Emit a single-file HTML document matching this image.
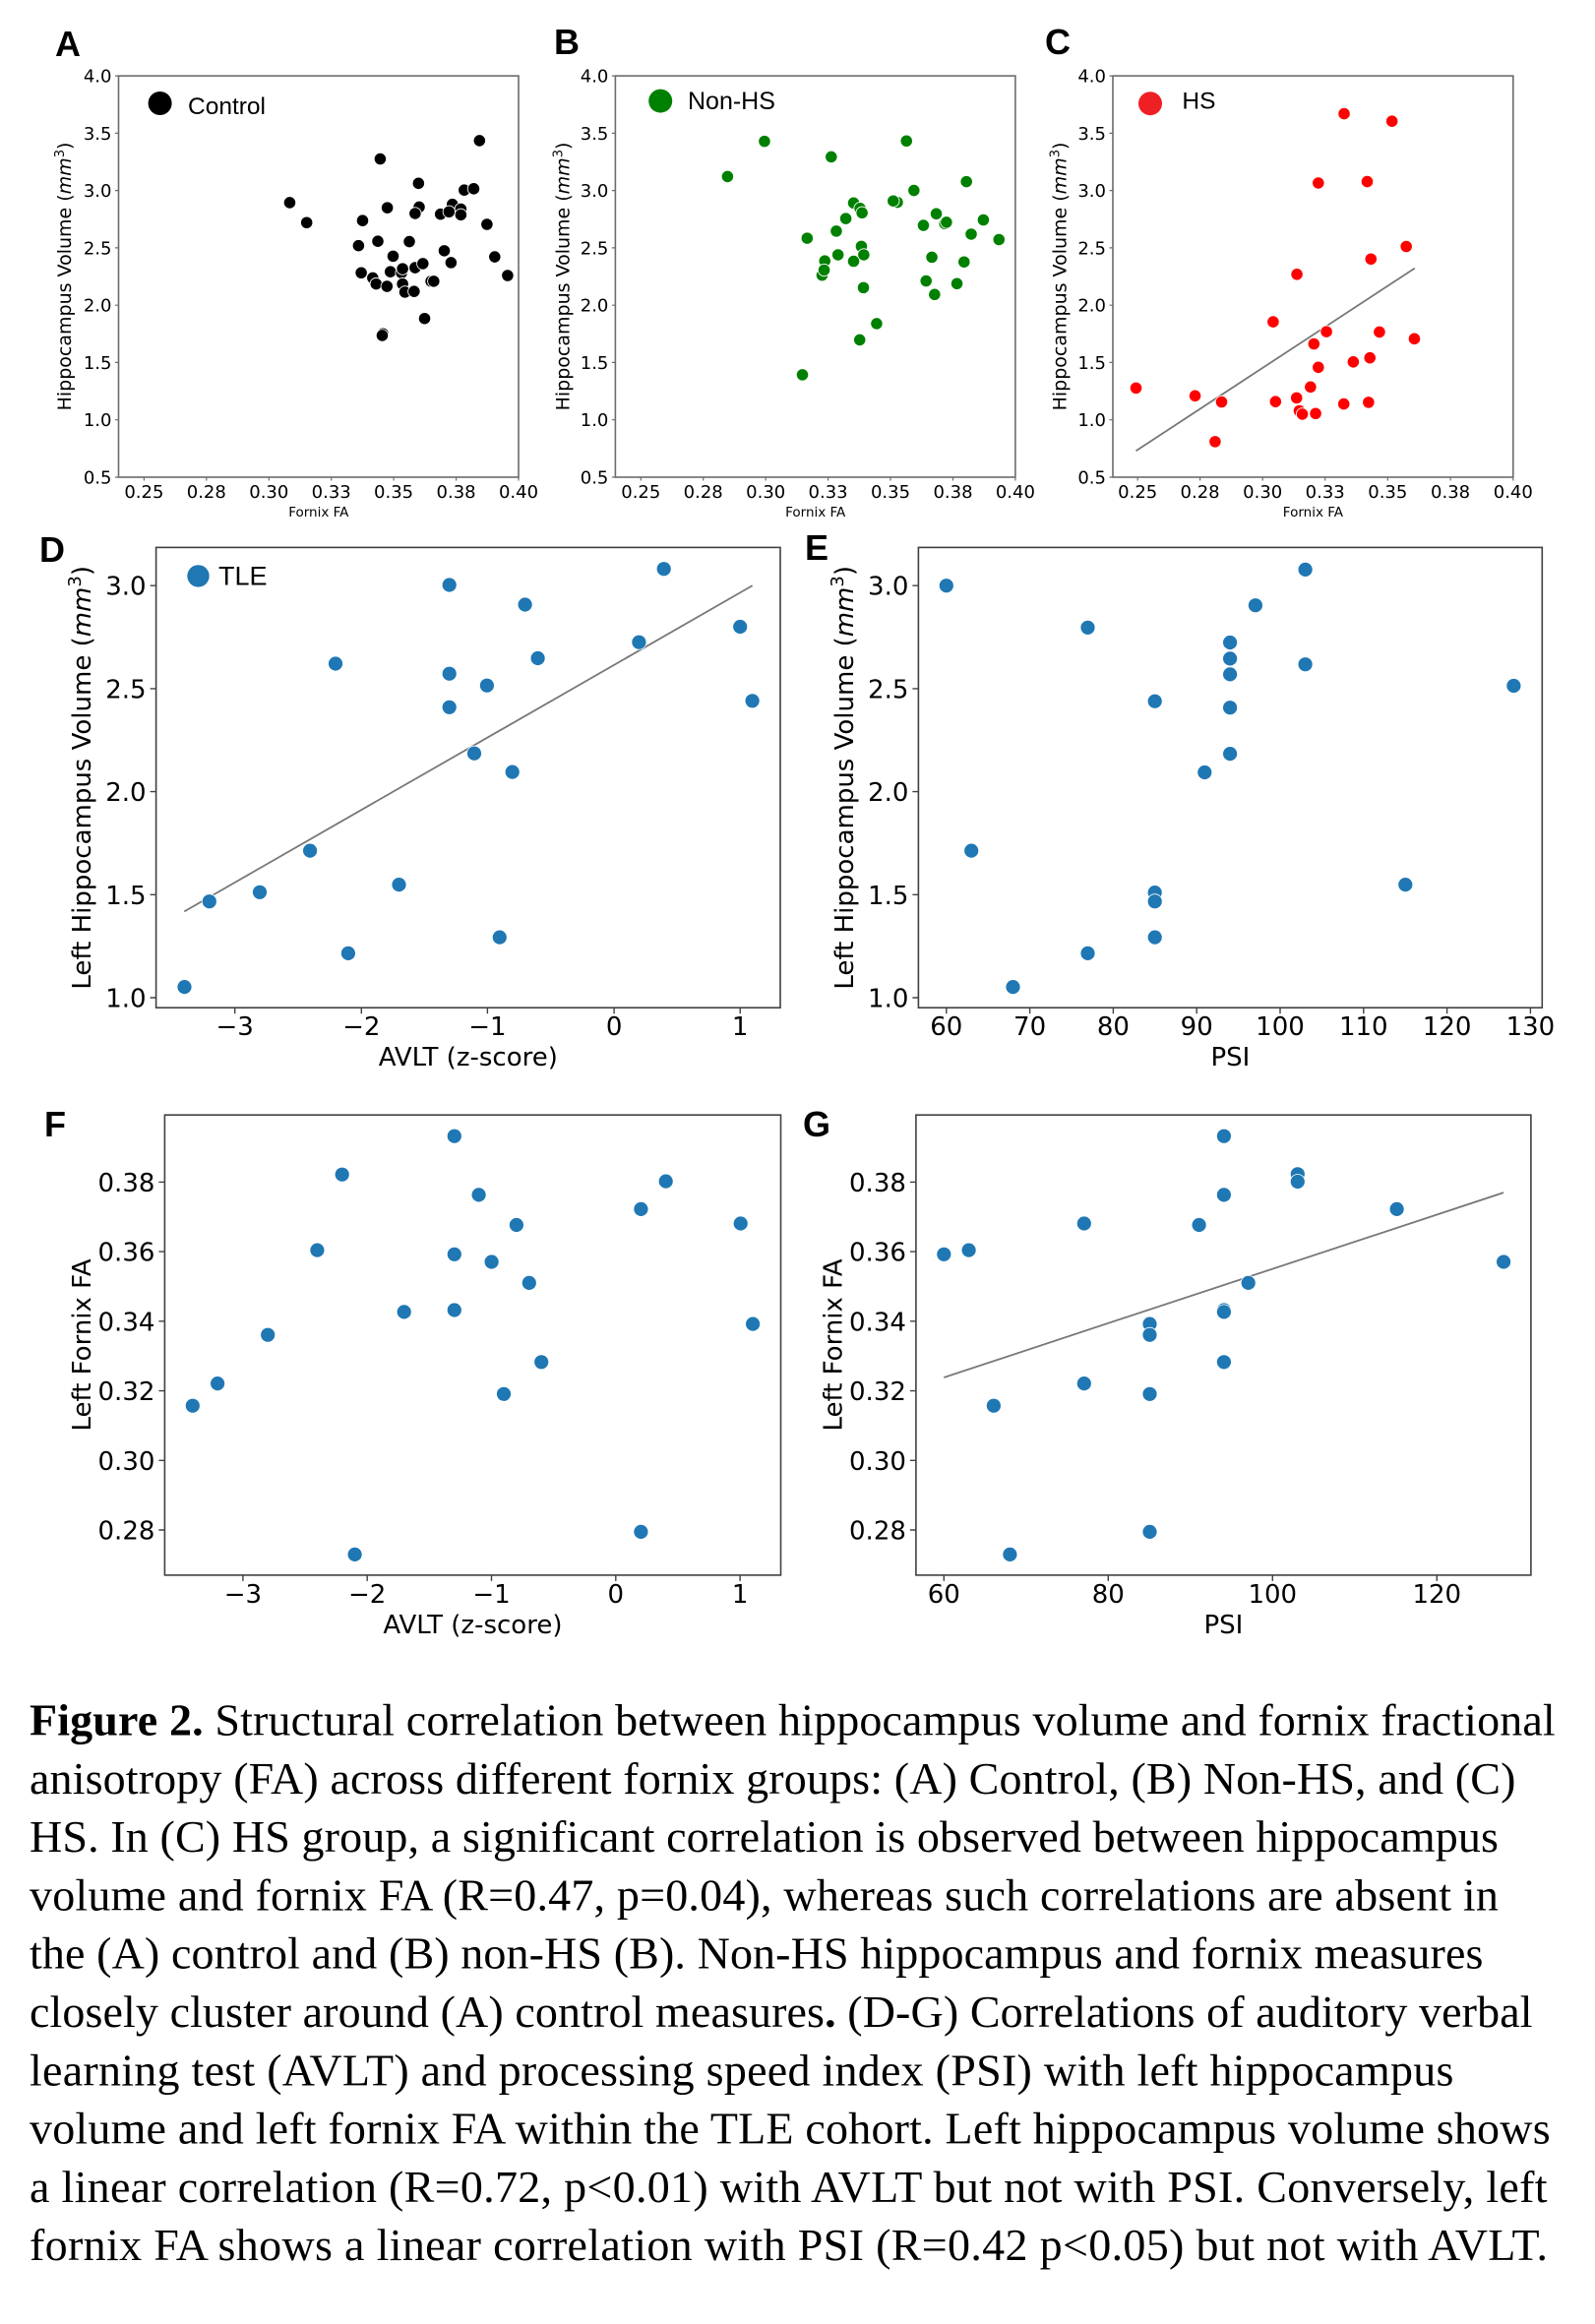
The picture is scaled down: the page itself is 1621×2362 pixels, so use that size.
<!DOCTYPE html>
<html><head><meta charset="utf-8"><style>
html,body{margin:0;padding:0;background:#fff;}
svg{display:block;}
</style></head><body>
<svg xmlns="http://www.w3.org/2000/svg" width="1621" height="2362" viewBox="0 0 1621 2362">
<rect width="1621" height="2362" fill="#fff"/>

<!-- Panel letters -->
<g font-family="'Liberation Sans', Arial, sans-serif" font-weight="bold" font-size="36" fill="#000">
<text x="56" y="57">A</text>
<text x="563" y="55">B</text>
<text x="1062" y="55">C</text>
<text x="40" y="571">D</text>
<text x="818" y="569">E</text>
<text x="45" y="1155">F</text>
<text x="816" y="1155">G</text>
</g>

<!-- ===== Panels A-C frames ===== -->
<g font-family="'DejaVu Sans', sans-serif" fill="#000">
<!-- A -->
<g transform="translate(120.5,0)">
<rect x="0" y="77.1" width="406.5" height="407.9" fill="none" stroke="#6b6b6b" stroke-width="1.6"/>
<path d="M-3.5 77.1H0M-3.5 135.4H0M-3.5 193.6H0M-3.5 251.9H0M-3.5 310.2H0M-3.5 368.4H0M-3.5 426.7H0M-3.5 485H0M25.9 485V488.5M89.3 485V488.5M152.8 485V488.5M216.2 485V488.5M279.6 485V488.5M343.1 485V488.5M406.5 485V488.5" stroke="#6b6b6b" stroke-width="1.2"/>
<g font-size="18" text-anchor="end">
<text x="-7" y="83.6">4.0</text><text x="-7" y="141.9">3.5</text><text x="-7" y="200.1">3.0</text><text x="-7" y="258.4">2.5</text><text x="-7" y="316.7">2.0</text><text x="-7" y="374.9">1.5</text><text x="-7" y="433.2">1.0</text><text x="-7" y="491.5">0.5</text>
</g>
<g font-size="18" text-anchor="middle">
<text x="25.9" y="506">0.25</text><text x="89.3" y="506">0.28</text><text x="152.8" y="506">0.30</text><text x="216.2" y="506">0.33</text><text x="279.6" y="506">0.35</text><text x="343.1" y="506">0.38</text><text x="406.5" y="506">0.40</text>
</g>
<text x="203.3" y="525" font-size="13.5" text-anchor="middle">Fornix FA</text>
<text transform="translate(-48.5,281) rotate(-90)" font-size="19" text-anchor="middle">Hippocampus Volume (<tspan font-style="italic">mm</tspan><tspan dy="-7" font-size="13">3</tspan><tspan dy="7">)</tspan></text>
</g>
<!-- B -->
<g transform="translate(625.4,0)">
<rect x="0" y="77.1" width="406.5" height="407.9" fill="none" stroke="#6b6b6b" stroke-width="1.6"/>
<path d="M-3.5 77.1H0M-3.5 135.4H0M-3.5 193.6H0M-3.5 251.9H0M-3.5 310.2H0M-3.5 368.4H0M-3.5 426.7H0M-3.5 485H0M25.9 485V488.5M89.3 485V488.5M152.8 485V488.5M216.2 485V488.5M279.6 485V488.5M343.1 485V488.5M406.5 485V488.5" stroke="#6b6b6b" stroke-width="1.2"/>
<g font-size="18" text-anchor="end">
<text x="-7" y="83.6">4.0</text><text x="-7" y="141.9">3.5</text><text x="-7" y="200.1">3.0</text><text x="-7" y="258.4">2.5</text><text x="-7" y="316.7">2.0</text><text x="-7" y="374.9">1.5</text><text x="-7" y="433.2">1.0</text><text x="-7" y="491.5">0.5</text>
</g>
<g font-size="18" text-anchor="middle">
<text x="25.9" y="506">0.25</text><text x="89.3" y="506">0.28</text><text x="152.8" y="506">0.30</text><text x="216.2" y="506">0.33</text><text x="279.6" y="506">0.35</text><text x="343.1" y="506">0.38</text><text x="406.5" y="506">0.40</text>
</g>
<text x="203.3" y="525" font-size="13.5" text-anchor="middle">Fornix FA</text>
<text transform="translate(-47,281) rotate(-90)" font-size="19" text-anchor="middle">Hippocampus Volume (<tspan font-style="italic">mm</tspan><tspan dy="-7" font-size="13">3</tspan><tspan dy="7">)</tspan></text>
</g>
<!-- C -->
<g transform="translate(1131,0)">
<rect x="0" y="77.1" width="406.8" height="407.9" fill="none" stroke="#6b6b6b" stroke-width="1.6"/>
<path d="M-3.5 77.1H0M-3.5 135.4H0M-3.5 193.6H0M-3.5 251.9H0M-3.5 310.2H0M-3.5 368.4H0M-3.5 426.7H0M-3.5 485H0M25.2 485V488.5M88.6 485V488.5M152.2 485V488.5M215.7 485V488.5M279.3 485V488.5M343.1 485V488.5M406.8 485V488.5" stroke="#6b6b6b" stroke-width="1.2"/>
<g font-size="18" text-anchor="end">
<text x="-7" y="83.6">4.0</text><text x="-7" y="141.9">3.5</text><text x="-7" y="200.1">3.0</text><text x="-7" y="258.4">2.5</text><text x="-7" y="316.7">2.0</text><text x="-7" y="374.9">1.5</text><text x="-7" y="433.2">1.0</text><text x="-7" y="491.5">0.5</text>
</g>
<g font-size="18" text-anchor="middle">
<text x="25.2" y="506">0.25</text><text x="88.6" y="506">0.28</text><text x="152.2" y="506">0.30</text><text x="215.7" y="506">0.33</text><text x="279.3" y="506">0.35</text><text x="343.1" y="506">0.38</text><text x="406.8" y="506">0.40</text>
</g>
<text x="203.4" y="525" font-size="13.5" text-anchor="middle">Fornix FA</text>
<text transform="translate(-47.5,281) rotate(-90)" font-size="19" text-anchor="middle">Hippocampus Volume (<tspan font-style="italic">mm</tspan><tspan dy="-7" font-size="13">3</tspan><tspan dy="7">)</tspan></text>
</g>
</g>

<!-- Panel A points -->
<g transform="scale(0.34439)" fill="#000" stroke="#fff" stroke-width="2.5">
<circle cx="1415" cy="415" r="18"/><circle cx="1122" cy="469" r="18"/><circle cx="1235" cy="541" r="18"/><circle cx="1370" cy="561" r="18"/><circle cx="1398" cy="557" r="18"/><circle cx="855" cy="598" r="18"/><circle cx="1143" cy="613" r="18"/><circle cx="1237" cy="611" r="18"/><circle cx="1225" cy="630" r="18"/><circle cx="1335" cy="603" r="18"/><circle cx="1360" cy="617" r="18"/><circle cx="1300" cy="632" r="18"/><circle cx="1325" cy="625" r="18"/><circle cx="1360" cy="634" r="18"/><circle cx="905" cy="657" r="18"/><circle cx="1070" cy="651" r="18"/><circle cx="1437" cy="662" r="18"/><circle cx="1058" cy="725" r="18"/><circle cx="1115" cy="712" r="18"/><circle cx="1208" cy="713" r="18"/><circle cx="1160" cy="756" r="18"/><circle cx="1311" cy="740" r="18"/><circle cx="1460" cy="758" r="18"/><circle cx="1066" cy="805" r="18"/><circle cx="1100" cy="820" r="18"/><circle cx="1152" cy="802" r="18"/><circle cx="1185" cy="805" r="18"/><circle cx="1188" cy="793" r="18"/><circle cx="1225" cy="790" r="18"/><circle cx="1248" cy="778" r="18"/><circle cx="1331" cy="775" r="18"/><circle cx="1498" cy="813" r="18"/><circle cx="1110" cy="838" r="18"/><circle cx="1142" cy="845" r="18"/><circle cx="1188" cy="838" r="18"/><circle cx="1195" cy="862" r="18"/><circle cx="1222" cy="860" r="18"/><circle cx="1272" cy="830" r="18"/><circle cx="1280" cy="830" r="18"/><circle cx="1253" cy="940" r="18"/><circle cx="1130" cy="985" r="18"/><circle cx="1128" cy="990" r="18"/>
</g>

<!-- Panel B points -->
<g transform="translate(540,0) scale(0.34439)" fill="#008000" stroke="#fff" stroke-width="2.5">
<circle cx="688" cy="417" r="18"/><circle cx="1107" cy="416" r="18"/><circle cx="885" cy="463" r="18"/><circle cx="579" cy="521" r="18"/><circle cx="1284" cy="536" r="18"/><circle cx="1129" cy="562" r="18"/><circle cx="1080" cy="597" r="18"/><circle cx="1068" cy="593" r="18"/><circle cx="951" cy="599" r="18"/><circle cx="970" cy="615" r="18"/><circle cx="976" cy="628" r="18"/><circle cx="928" cy="645" r="18"/><circle cx="1195" cy="631" r="18"/><circle cx="1220" cy="660" r="18"/><circle cx="1225" cy="656" r="18"/><circle cx="1157" cy="665" r="18"/><circle cx="1334" cy="649" r="18"/><circle cx="900" cy="682" r="18"/><circle cx="814" cy="703" r="18"/><circle cx="1298" cy="691" r="18"/><circle cx="1380" cy="707" r="18"/><circle cx="974" cy="727" r="18"/><circle cx="905" cy="752" r="18"/><circle cx="981" cy="752" r="18"/><circle cx="866" cy="770" r="18"/><circle cx="951" cy="771" r="18"/><circle cx="1182" cy="759" r="18"/><circle cx="1277" cy="773" r="18"/><circle cx="858" cy="812" r="18"/><circle cx="864" cy="797" r="18"/><circle cx="1165" cy="829" r="18"/><circle cx="1256" cy="837" r="18"/><circle cx="980" cy="849" r="18"/><circle cx="1190" cy="869" r="18"/><circle cx="1019" cy="955" r="18"/><circle cx="969" cy="1003" r="18"/><circle cx="800" cy="1106" r="18"/>
</g>

<!-- Panel C regression + points -->
<line x1="1154.5" y1="458.2" x2="1437.8" y2="272.6" stroke="#777" stroke-width="1.8"/>
<g transform="translate(1080,0) scale(0.34503)" fill="#ff0000" stroke="#fff" stroke-width="2.5">
<circle cx="829" cy="335" r="18"/><circle cx="970" cy="357" r="18"/><circle cx="753" cy="539" r="18"/><circle cx="897" cy="535" r="18"/><circle cx="1012" cy="726" r="18"/><circle cx="908" cy="763" r="18"/><circle cx="690" cy="808" r="18"/><circle cx="620" cy="948" r="18"/><circle cx="777" cy="977" r="18"/><circle cx="933" cy="978" r="18"/><circle cx="1036" cy="998" r="18"/><circle cx="740" cy="1013" r="18"/><circle cx="856" cy="1066" r="18"/><circle cx="905" cy="1054" r="18"/><circle cx="753" cy="1082" r="18"/><circle cx="730" cy="1140" r="18"/><circle cx="216" cy="1143" r="18"/><circle cx="390" cy="1166" r="18"/><circle cx="468" cy="1184" r="18"/><circle cx="627" cy="1183" r="18"/><circle cx="689" cy="1172" r="18"/><circle cx="828" cy="1190" r="18"/><circle cx="901" cy="1185" r="18"/><circle cx="697" cy="1210" r="18"/><circle cx="706" cy="1220" r="18"/><circle cx="745" cy="1218" r="18"/><circle cx="449" cy="1301" r="18"/>
</g>

<!-- Legends A-C, D -->
<g font-family="'Liberation Sans', Arial, sans-serif" fill="#000">
<circle cx="162.6" cy="105" r="12" fill="#000"/>
<text x="191" y="116" font-size="24.5">Control</text>
<circle cx="671.2" cy="102.6" r="12" fill="#008000"/>
<text x="699" y="111" font-size="25">Non-HS</text>
<circle cx="1169" cy="105.2" r="12" fill="#ee2024"/>
<text x="1201.4" y="110.6" font-size="24.5">HS</text>
<circle cx="201.5" cy="585.4" r="11.2" fill="#1f77b4"/>
<text x="222" y="594.5" font-size="27">TLE</text>
</g>

<!-- ===== Panels D-G frames ===== -->
<g font-family="'DejaVu Sans', sans-serif" fill="#000">
<!-- D -->
<g transform="translate(158.6,0)">
<rect x="0" y="556.4" width="634.4" height="467.8" fill="none" stroke="#404040" stroke-width="1.6"/>
<path d="M-6 595.2H0M-6 699.9H0M-6 804.6H0M-6 909.3H0M-6 1014H0M80.1 1024.2V1030.2M208.7 1024.2V1030.2M336.8 1024.2V1030.2M465.5 1024.2V1030.2M593.6 1024.2V1030.2" stroke="#404040" stroke-width="1.4"/>
<g font-size="26" text-anchor="end">
<text x="-10" y="604.7">3.0</text><text x="-10" y="709.4">2.5</text><text x="-10" y="814.1">2.0</text><text x="-10" y="918.8">1.5</text><text x="-10" y="1023.5">1.0</text>
</g>
<g font-size="26" text-anchor="middle">
<text x="80.1" y="1052">−3</text><text x="208.7" y="1052">−2</text><text x="336.8" y="1052">−1</text><text x="465.5" y="1052">0</text><text x="593.6" y="1052">1</text>
</g>
<text x="317.2" y="1083" font-size="26" text-anchor="middle">AVLT (z-score)</text>
<text transform="translate(-66.6,790.3) rotate(-90)" font-size="26" text-anchor="middle">Left Hippocampus Volume (<tspan font-style="italic">mm</tspan><tspan dy="-10" font-size="18">3</tspan><tspan dy="10">)</tspan></text>
</g>
<!-- E -->
<g transform="translate(933.4,0)">
<rect x="0" y="556.4" width="633.9" height="467.8" fill="none" stroke="#404040" stroke-width="1.6"/>
<path d="M-6 595.2H0M-6 699.9H0M-6 804.6H0M-6 909.3H0M-6 1014H0M28.4 1024.2V1030.2M113.2 1024.2V1030.2M198 1024.2V1030.2M282.8 1024.2V1030.2M367.6 1024.2V1030.2M452.4 1024.2V1030.2M537.2 1024.2V1030.2M622 1024.2V1030.2" stroke="#404040" stroke-width="1.4"/>
<g font-size="26" text-anchor="end">
<text x="-10" y="604.7">3.0</text><text x="-10" y="709.4">2.5</text><text x="-10" y="814.1">2.0</text><text x="-10" y="918.8">1.5</text><text x="-10" y="1023.5">1.0</text>
</g>
<g font-size="26" text-anchor="middle">
<text x="28.4" y="1052">60</text><text x="113.2" y="1052">70</text><text x="198" y="1052">80</text><text x="282.8" y="1052">90</text><text x="367.6" y="1052">100</text><text x="452.4" y="1052">110</text><text x="537.2" y="1052">120</text><text x="622" y="1052">130</text>
</g>
<text x="317" y="1083" font-size="26" text-anchor="middle">PSI</text>
<text transform="translate(-66.4,790.3) rotate(-90)" font-size="26" text-anchor="middle">Left Hippocampus Volume (<tspan font-style="italic">mm</tspan><tspan dy="-10" font-size="18">3</tspan><tspan dy="10">)</tspan></text>
</g>
<!-- F -->
<g transform="translate(167.4,0)">
<rect x="0" y="1133.2" width="626.1" height="467.7" fill="none" stroke="#404040" stroke-width="1.6"/>
<path d="M-6 1201.4H0M-6 1272.1H0M-6 1342.8H0M-6 1413.6H0M-6 1484.3H0M-6 1555H0M79.5 1600.9V1606.9M205.8 1600.9V1606.9M332.1 1600.9V1606.9M458.4 1600.9V1606.9M584.7 1600.9V1606.9" stroke="#404040" stroke-width="1.4"/>
<g font-size="26" text-anchor="end">
<text x="-10" y="1210.9">0.38</text><text x="-10" y="1281.6">0.36</text><text x="-10" y="1352.3">0.34</text><text x="-10" y="1423.1">0.32</text><text x="-10" y="1493.8">0.30</text><text x="-10" y="1564.5">0.28</text>
</g>
<g font-size="26" text-anchor="middle">
<text x="79.5" y="1629">−3</text><text x="205.8" y="1629">−2</text><text x="332.1" y="1629">−1</text><text x="458.4" y="1629">0</text><text x="584.7" y="1629">1</text>
</g>
<text x="313" y="1660" font-size="26" text-anchor="middle">AVLT (z-score)</text>
<text transform="translate(-75.4,1367) rotate(-90)" font-size="26" text-anchor="middle">Left Fornix FA</text>
</g>
<!-- G -->
<g transform="translate(930.9,0)">
<rect x="0" y="1133.2" width="625" height="467.7" fill="none" stroke="#404040" stroke-width="1.6"/>
<path d="M-6 1201.4H0M-6 1272.1H0M-6 1342.8H0M-6 1413.6H0M-6 1484.3H0M-6 1555H0M28.4 1600.9V1606.9M195.4 1600.9V1606.9M362.4 1600.9V1606.9M529.4 1600.9V1606.9" stroke="#404040" stroke-width="1.4"/>
<g font-size="26" text-anchor="end">
<text x="-10" y="1210.9">0.38</text><text x="-10" y="1281.6">0.36</text><text x="-10" y="1352.3">0.34</text><text x="-10" y="1423.1">0.32</text><text x="-10" y="1493.8">0.30</text><text x="-10" y="1564.5">0.28</text>
</g>
<g font-size="26" text-anchor="middle">
<text x="28.4" y="1629">60</text><text x="195.4" y="1629">80</text><text x="362.4" y="1629">100</text><text x="529.4" y="1629">120</text>
</g>
<text x="312.5" y="1660" font-size="26" text-anchor="middle">PSI</text>
<text transform="translate(-75.4,1367) rotate(-90)" font-size="26" text-anchor="middle">Left Fornix FA</text>
</g>
</g>

<!-- Regression lines D, G -->
<line x1="187.3" y1="926.4" x2="764.6" y2="595.2" stroke="#777" stroke-width="1.8"/>
<line x1="959.3" y1="1400" x2="1528.1" y2="1212.1" stroke="#777" stroke-width="1.8"/>

<!-- D-G points -->
<g fill="#1f77b4" stroke="#fff" stroke-width="0.8">
<!-- D -->
<circle cx="674.7" cy="578.2" r="7.5"/><circle cx="456.7" cy="594.5" r="7.5"/><circle cx="533.6" cy="614.5" r="7.5"/><circle cx="752.2" cy="637" r="7.5"/><circle cx="649.4" cy="652.7" r="7.5"/><circle cx="341" cy="674.5" r="7.5"/><circle cx="546.6" cy="669" r="7.5"/><circle cx="456.7" cy="684.7" r="7.5"/><circle cx="494.9" cy="696.7" r="7.5"/><circle cx="764.6" cy="712.3" r="7.5"/><circle cx="456.7" cy="718.8" r="7.5"/><circle cx="482" cy="765.7" r="7.5"/><circle cx="520.7" cy="784.6" r="7.5"/><circle cx="315.1" cy="864.6" r="7.5"/><circle cx="405.5" cy="899.1" r="7.5"/><circle cx="264" cy="906.8" r="7.5"/><circle cx="212.8" cy="916.2" r="7.5"/><circle cx="507.8" cy="952.6" r="7.5"/><circle cx="353.9" cy="968.9" r="7.5"/><circle cx="187.5" cy="1003.1" r="7.5"/>
<!-- E -->
<circle cx="961.8" cy="595.2" r="7.5"/><circle cx="1105.5" cy="637.8" r="7.5"/><circle cx="1326.6" cy="578.9" r="7.5"/><circle cx="1275.9" cy="615.2" r="7.5"/><circle cx="1250.1" cy="653" r="7.5"/><circle cx="1250.1" cy="669.4" r="7.5"/><circle cx="1326.6" cy="675.2" r="7.5"/><circle cx="1250.1" cy="685.4" r="7.5"/><circle cx="1538.4" cy="697" r="7.5"/><circle cx="1173.7" cy="712.7" r="7.5"/><circle cx="1250.1" cy="719.2" r="7.5"/><circle cx="1250.1" cy="766.1" r="7.5"/><circle cx="1224.3" cy="785" r="7.5"/><circle cx="987.2" cy="864.6" r="7.5"/><circle cx="1173.7" cy="907.1" r="7.5"/><circle cx="1173.7" cy="916.2" r="7.5"/><circle cx="1428.3" cy="899.1" r="7.5"/><circle cx="1173.7" cy="952.6" r="7.5"/><circle cx="1105.5" cy="968.9" r="7.5"/><circle cx="1029.5" cy="1003.1" r="7.5"/>
<!-- F -->
<circle cx="461.8" cy="1154.7" r="7.5"/><circle cx="347.7" cy="1193.7" r="7.5"/><circle cx="676.7" cy="1200.6" r="7.5"/><circle cx="486.6" cy="1214.4" r="7.5"/><circle cx="651.4" cy="1228.9" r="7.5"/><circle cx="524.9" cy="1245" r="7.5"/><circle cx="752.7" cy="1243.5" r="7.5"/><circle cx="322.4" cy="1270.6" r="7.5"/><circle cx="461.8" cy="1274.8" r="7.5"/><circle cx="499.6" cy="1282.5" r="7.5"/><circle cx="537.8" cy="1303.9" r="7.5"/><circle cx="410.7" cy="1333.4" r="7.5"/><circle cx="461.8" cy="1331.5" r="7.5"/><circle cx="272.2" cy="1356.7" r="7.5"/><circle cx="765.1" cy="1345.6" r="7.5"/><circle cx="550.2" cy="1384.3" r="7.5"/><circle cx="221.1" cy="1406.1" r="7.5"/><circle cx="512" cy="1416.8" r="7.5"/><circle cx="195.8" cy="1428.7" r="7.5"/><circle cx="651.4" cy="1556.9" r="7.5"/><circle cx="360.6" cy="1579.9" r="7.5"/>
<!-- G -->
<circle cx="1243.9" cy="1154.7" r="7.5"/><circle cx="1318.8" cy="1193.3" r="7.5"/><circle cx="1318.8" cy="1201" r="7.5"/><circle cx="1243.9" cy="1214.4" r="7.5"/><circle cx="1419.6" cy="1228.9" r="7.5"/><circle cx="1101.8" cy="1243.5" r="7.5"/><circle cx="1218.6" cy="1245" r="7.5"/><circle cx="959.3" cy="1274.8" r="7.5"/><circle cx="984.6" cy="1270.6" r="7.5"/><circle cx="1528.1" cy="1282.5" r="7.5"/><circle cx="1268.7" cy="1303.9" r="7.5"/><circle cx="1243.9" cy="1331.5" r="7.5"/><circle cx="1243.9" cy="1333.4" r="7.5"/><circle cx="1168.5" cy="1345.6" r="7.5"/><circle cx="1168.5" cy="1356.7" r="7.5"/><circle cx="1243.9" cy="1384.3" r="7.5"/><circle cx="1101.8" cy="1406.1" r="7.5"/><circle cx="1168.5" cy="1416.8" r="7.5"/><circle cx="1009.9" cy="1428.7" r="7.5"/><circle cx="1168.5" cy="1556.9" r="7.5"/><circle cx="1026.4" cy="1579.9" r="7.5"/>
</g>

<!-- Caption -->
<g font-family="'Liberation Serif', 'Times New Roman', serif" font-size="46" fill="#000">
<text x="30" y="1763.5" textLength="1550.7" lengthAdjust="spacing"><tspan font-weight="bold">Figure 2.</tspan> Structural correlation between hippocampus volume and fornix fractional</text>
<text x="30" y="1822.8" textLength="1510.4" lengthAdjust="spacing">anisotropy (FA) across different fornix groups: (A) Control, (B) Non-HS, and (C)</text>
<text x="30" y="1882.1" textLength="1492.9" lengthAdjust="spacing">HS. In (C) HS group, a significant correlation is observed between hippocampus</text>
<text x="30" y="1941.4" textLength="1492.9" lengthAdjust="spacing">volume and fornix FA (R=0.47, p=0.04), whereas such correlations are absent in</text>
<text x="30" y="2000.7" textLength="1477.4" lengthAdjust="spacing">the (A) control and (B) non-HS (B). Non-HS hippocampus and fornix measures</text>
<text x="30" y="2060" textLength="1527.5" lengthAdjust="spacing">closely cluster around (A) control measures<tspan font-weight="bold">.</tspan> (D-G) Correlations of auditory verbal</text>
<text x="30" y="2119.3" textLength="1447.4" lengthAdjust="spacing">learning test (AVLT) and processing speed index (PSI) with left hippocampus</text>
<text x="30" y="2178.6" textLength="1545.6" lengthAdjust="spacing">volume and left fornix FA within the TLE cohort. Left hippocampus volume shows</text>
<text x="30" y="2237.9" textLength="1542.5" lengthAdjust="spacing">a linear correlation (R=0.72, p&lt;0.01) with AVLT but not with PSI. Conversely, left</text>
<text x="30" y="2297.2" textLength="1543" lengthAdjust="spacing">fornix FA shows a linear correlation with PSI (R=0.42 p&lt;0.05) but not with AVLT.</text>
</g>
</svg>
</body></html>
